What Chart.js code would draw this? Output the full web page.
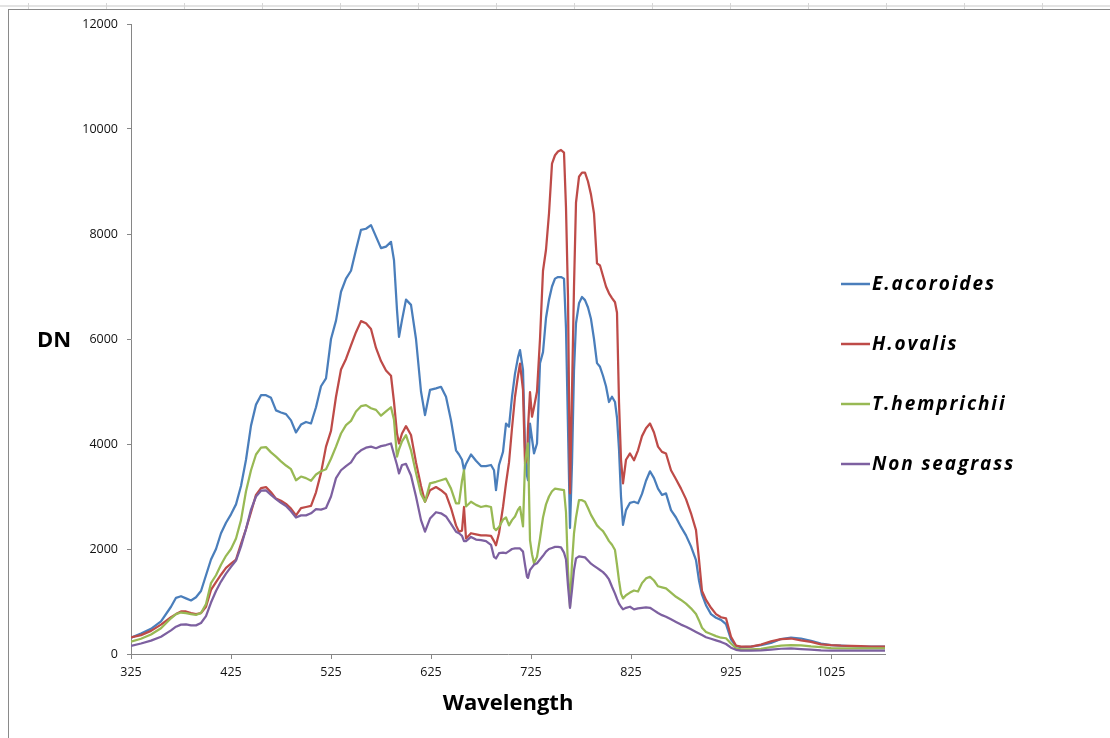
<!DOCTYPE html>
<html>
<head>
<meta charset="utf-8">
<script src="https://cdn.jsdelivr.net/npm/chart.js@4.4.1/dist/chart.umd.min.js"></script>
<style>
  html, body { margin: 0; padding: 0; background: #fff; }
  #wrap { width: 1110px; height: 738px; }
</style>
</head>
<body>
<div id="wrap"><canvas id="grafico" width="1110" height="738"></canvas></div>
<script>
// wavelength (nm) of each sample
const wavelengths = [
  325, 335, 345, 355, 365, 370, 375, 380, 385, 390,
  395, 400, 405, 410, 415, 420, 425, 430, 435, 440,
  445, 450, 455, 460, 465, 470, 475, 480, 485, 490,
  495, 500, 505, 510, 515, 520, 525, 530, 535, 540,
  545, 550, 555, 560, 565, 570, 575, 580, 585, 588,
  591, 593, 596, 600, 605, 610, 615, 619, 624, 630,
  635, 640, 645, 650, 653, 656, 658, 660, 665, 670,
  675, 680, 685, 688, 690, 693, 697, 700, 703, 706,
  709, 712, 714, 717, 719, 721, 722, 724, 726, 728,
  731, 734, 737, 740, 743, 746, 749, 752, 755, 758,
  760, 762, 764, 766, 768, 770, 773, 776, 779, 782,
  785, 788, 791, 794, 797, 800, 803, 806, 809, 811,
  813, 815, 817, 820, 824, 828, 832, 836, 840, 844,
  848, 852, 856, 860, 865, 870, 875, 880, 885, 890,
  893, 896, 900, 905, 910, 915, 920, 925, 930, 935,
  945, 955, 965, 975, 985, 995, 1005, 1015, 1025, 1035,
  1045, 1055, 1065, 1079
];

const eAcoroides = [
  310, 390, 480, 620, 900, 1070, 1100, 1060, 1020, 1080,
  1200, 1500, 1800, 2000, 2300, 2500, 2660, 2850, 3200, 3700,
  4350, 4750, 4930, 4930, 4880, 4640, 4600, 4570, 4450, 4220,
  4370, 4420, 4390, 4700, 5100, 5250, 6000, 6350, 6900, 7150,
  7300, 7700, 8080, 8100, 8170, 7950, 7730, 7760, 7850, 7500,
  6550, 6040, 6360, 6750, 6650, 6000, 5000, 4550, 5030, 5060,
  5090, 4900, 4450, 3880, 3800, 3700, 3500, 3620, 3800, 3680,
  3580, 3580, 3600, 3500, 3120, 3600, 3850, 4390, 4330, 4900,
  5340, 5650, 5790, 5410, 3950, 3400, 3310, 4390, 4100, 3820,
  4010, 5540, 5750, 6400, 6750, 7000, 7150, 7180, 7180, 7150,
  6200, 4300, 2400, 3630, 5400, 6300, 6680, 6800, 6740, 6600,
  6380, 6000, 5540, 5470, 5300, 5100, 4800, 4900, 4800, 4500,
  3900, 3000, 2460, 2740, 2880, 2900, 2870, 3050, 3300, 3480,
  3350, 3150, 3030, 3060, 2740, 2600, 2420, 2260, 2050, 1790,
  1400, 1130, 930, 760, 690, 650, 570, 280, 150, 130,
  140, 170, 210, 285, 310, 295, 250, 200, 170, 160,
  150, 140, 140, 140
];

const hOvalis = [
  318, 360, 440, 560, 700, 760, 810, 810, 780, 760,
  780, 900, 1220, 1370, 1510, 1640, 1720, 1800, 2100, 2380,
  2700, 3030, 3160, 3180, 3080, 2960, 2920, 2860, 2770, 2640,
  2780, 2800, 2820, 3080, 3450, 3950, 4250, 4900, 5420, 5620,
  5880, 6130, 6340, 6300, 6190, 5830, 5580, 5400, 5300, 4800,
  4200, 4010, 4200, 4340, 4170, 3650, 3200, 2900, 3120, 3180,
  3120, 3040, 2780, 2450, 2330, 2350, 2800, 2200, 2300, 2280,
  2260, 2260, 2250, 2150, 2070, 2300, 2800, 3250, 3650, 4300,
  4900, 5300, 5530, 5030, 3630, 3700, 4300, 4990, 4520, 4700,
  5000, 6000, 7300, 7700, 8390, 9340, 9500, 9570, 9600, 9550,
  8500, 6800, 3060, 5000, 7000, 8600, 9090, 9170, 9170, 9000,
  8750, 8390, 7440, 7400, 7200, 7000, 6870, 6780, 6700, 6500,
  4800, 3700, 3250, 3700, 3820, 3690, 3880, 4150, 4300, 4390,
  4220, 3950, 3850, 3820, 3500, 3330, 3150, 2950, 2680, 2360,
  1800, 1200, 1030, 880, 760, 700, 680, 330, 160, 140,
  140, 180, 240, 285, 295, 260, 230, 185, 170, 160,
  155, 150, 140, 140
];

const tHemprichii = [
  235, 290, 370, 490, 680, 760, 790, 780, 760, 745,
  780, 950, 1350, 1500, 1700, 1870, 2000, 2200, 2550, 3100,
  3500, 3800, 3930, 3940, 3840, 3760, 3670, 3590, 3520, 3310,
  3380, 3350, 3300, 3420, 3480, 3520, 3720, 3950, 4200, 4360,
  4440, 4620, 4720, 4740, 4680, 4650, 4540, 4620, 4700, 4460,
  3760, 3900, 4050, 4170, 3880, 3450, 3050, 2900, 3250, 3280,
  3310, 3340, 3150, 2870, 2870, 3300, 3500, 2810, 2900, 2840,
  2800, 2820, 2800, 2400, 2360, 2420, 2560, 2600, 2450, 2550,
  2620, 2750, 2800, 2430, 3630, 3900, 4010, 2170, 1900, 1730,
  1850, 2200, 2600, 2850, 3000, 3100, 3150, 3140, 3130, 3120,
  2700, 1600, 900, 1730, 2300, 2600, 2930, 2930, 2900, 2780,
  2650, 2550, 2450, 2390, 2340, 2250, 2150, 2080, 1980, 1700,
  1400, 1150, 1060, 1120, 1170, 1210, 1190, 1350, 1440, 1470,
  1400, 1290, 1270, 1250, 1170, 1090, 1030, 960, 870, 760,
  640, 500, 420, 380, 340, 310, 300, 200, 110, 89,
  89, 100, 130, 160, 170, 165, 145, 130, 110, 108,
  108, 108, 105, 105
];

const nonSeagrass = [
  152, 200, 255, 330, 450, 520, 560, 565, 545, 545,
  590, 720, 980, 1200, 1380, 1530, 1660, 1780, 2050, 2380,
  2750, 3000, 3110, 3115, 3030, 2950, 2880, 2820, 2720, 2600,
  2640, 2640, 2680, 2760, 2750, 2780, 3000, 3350, 3500, 3580,
  3650, 3800, 3880, 3930, 3950, 3920, 3960, 3980, 4010, 3800,
  3600, 3440, 3600, 3620, 3400, 3000, 2550, 2330, 2580, 2700,
  2680, 2620, 2480, 2330, 2300, 2250, 2150, 2150, 2230, 2180,
  2170, 2150, 2080, 1850, 1820, 1920, 1930, 1920, 1960, 2000,
  2010, 2010, 2010, 1950, 1700, 1470, 1450, 1600, 1650, 1700,
  1730, 1800, 1870, 1950, 2000, 2020, 2040, 2040, 2030, 1930,
  1800, 1300, 880, 1220, 1600, 1820, 1860, 1850, 1840, 1780,
  1720, 1680, 1640, 1600, 1560, 1500, 1420, 1280, 1150, 1050,
  960, 900, 850, 880, 900, 850, 870, 880, 890, 880,
  830, 780, 740, 710, 660, 610, 560, 520, 470, 420,
  390, 360, 320, 290, 260, 230, 190, 120, 80, 64,
  64, 70, 85, 100, 105, 95, 85, 70, 64, 64,
  64, 64, 64, 64
];

const seriesNames = ["E.acoroides", "H.ovalis", "T.hemprichii", "Non seagrass"];
const seriesColors = ["#4a7ebb", "#be4b48", "#98b954", "#7d60a0"];
const xTickValues = [325, 425, 525, 625, 725, 825, 925, 1025];

// excel-ish frame + cell lines behind the chart, DN label and legend on top
const frame = {
  id: "frame",
  beforeDraw(chart) {
    const ctx = chart.ctx;
    ctx.save();
    ctx.fillStyle = "#fff";
    ctx.fillRect(0, 0, chart.width, chart.height);
    ctx.fillStyle = "#e3e3e3";
    ctx.fillRect(0, 5, chart.width, 2);
    ctx.strokeStyle = "#d6d6d6";
    for (let x = 28; x < chart.width; x += 78) {
      ctx.beginPath();
      ctx.moveTo(x + 0.5, 3);
      ctx.lineTo(x + 0.5, 9);
      ctx.stroke();
    }
    ctx.strokeStyle = "#8a8a8a";
    ctx.lineWidth = 1;
    ctx.strokeRect(8.5, 9.5, 1300, 900);
    ctx.restore();
  },
  afterDraw(chart) {
    const ctx = chart.ctx;
    ctx.save();
    ctx.fillStyle = "#000";
    ctx.textBaseline = "middle";
    ctx.textAlign = "center";
    ctx.font = "bold 22px 'Open Sans'";
    ctx.fillText("DN", 54, 341);
    ctx.textAlign = "left";
    ctx.font = "italic bold 19px 'Open Sans'";
    if ("letterSpacing" in ctx) ctx.letterSpacing = "1.9px";
    chart.data.datasets.forEach((ds, i) => {
      const y = 284 + i * 60;
      ctx.strokeStyle = ds.borderColor;
      ctx.lineWidth = 2.5;
      ctx.beginPath();
      ctx.moveTo(841, y);
      ctx.lineTo(870, y);
      ctx.stroke();
      ctx.fillText(ds.label, 872, y + 1);
    });
    ctx.restore();
  },
};

const series = [eAcoroides, hOvalis, tHemprichii, nonSeagrass];

new Chart(document.getElementById("grafico").getContext("2d"), {
  type: "line",
  data: {
    labels: wavelengths,
    datasets: series.map((values, i) => ({
      label: seriesNames[i],
      data: values,
      borderColor: seriesColors[i],
      backgroundColor: seriesColors[i],
      borderWidth: 2.25,
      borderJoinStyle: "round",
      pointRadius: 0,
      tension: 0,
      fill: false,
      order: 3 - i,
    })),
  },
  options: {
    responsive: false,
    animation: false,
    devicePixelRatio: 1,
    layout: { padding: { left: 0, top: 24, right: 225, bottom: 0 } },
    plugins: {
      legend: { display: false },
      tooltip: { enabled: false },
    },
    scales: {
      x: {
        type: "linear",
        min: 325,
        max: 1079,
        afterBuildTicks: (scale) => {
          scale.ticks = xTickValues.map((v) => ({ value: v }));
        },
        afterFit: (scale) => {
          scale.height = 84;
        },
        grid: { drawOnChartArea: false, drawTicks: true, tickLength: 5, color: "#868686" },
        border: { color: "#868686", width: 1 },
        ticks: {
          color: "#111",
          font: { family: "'Open Sans'", size: 12.5 },
          padding: 6,
          maxRotation: 0,
          autoSkip: false,
          callback: (v) => String(v),
        },
        title: {
          display: true,
          text: "Wavelength",
          color: "#000",
          font: { family: "'Open Sans'", size: 22, weight: "bold" },
          padding: { top: 4, bottom: 21 },
        },
      },
      y: {
        min: 0,
        max: 12000,
        afterFit: (scale) => {
          scale.width = 131;
        },
        grid: { drawOnChartArea: false, drawTicks: true, tickLength: 4, color: "#868686" },
        border: { color: "#868686", width: 1 },
        ticks: {
          stepSize: 2000,
          color: "#111",
          font: { family: "'Open Sans'", size: 12.5 },
          padding: 9,
          callback: (v) => String(v),
        },
      },
    },
  },
  plugins: [frame],
});
</script>
</body>
</html>
